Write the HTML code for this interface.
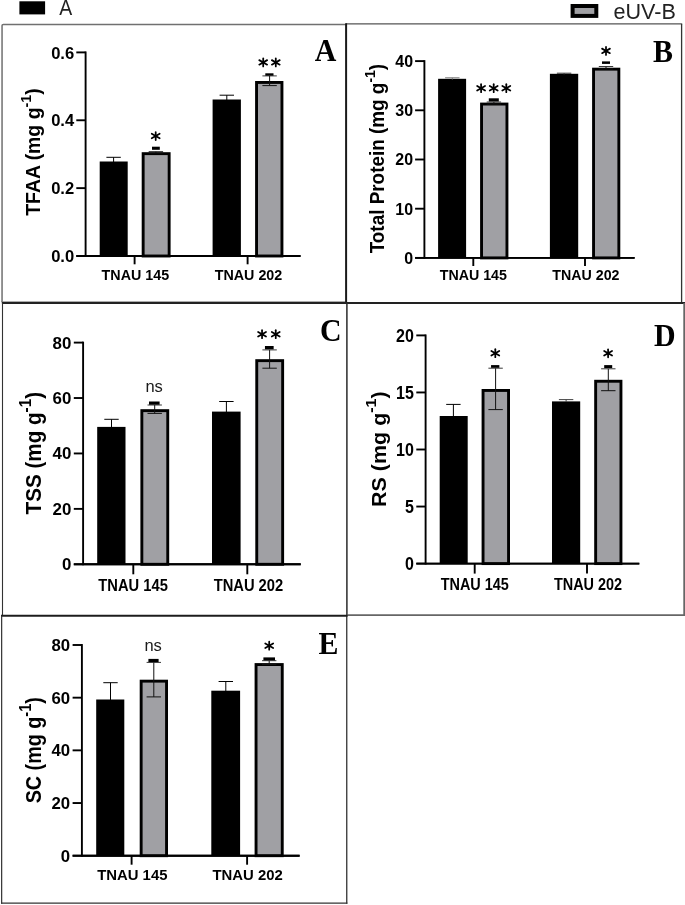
<!DOCTYPE html>
<html><head><meta charset="utf-8"><title>Figure</title>
<style>html,body{margin:0;padding:0;background:#fff;}body{width:685px;height:905px;overflow:hidden;font-family:"Liberation Sans",sans-serif;}svg{display:block;will-change:transform;filter:blur(0.4px);}.s{font-family:"Liberation Sans",sans-serif;}.r{font-family:"Liberation Serif",serif;}</style>
</head><body>
<svg width="685" height="905" viewBox="0 0 685 905">
<rect x="0" y="0" width="685" height="905" fill="#fff"/>
<path d="M2.05,302 V25.6 Q2.05,24.4 3.3,24.4 H346" fill="none" stroke="#707070" stroke-width="1.5"/>
<line x1="1.30" y1="301.90" x2="346.00" y2="301.90" stroke="#777" stroke-width="1.0" />
<line x1="346.00" y1="23.90" x2="682.20" y2="23.90" stroke="#555" stroke-width="1.4" />
<line x1="346.10" y1="23.20" x2="346.10" y2="302.70" stroke="#1a1a1a" stroke-width="2.0" />
<line x1="681.60" y1="23.90" x2="681.60" y2="302.70" stroke="#333" stroke-width="1.3" />
<line x1="1.90" y1="302.90" x2="685.00" y2="302.90" stroke="#222" stroke-width="2.0" />
<line x1="2.50" y1="302.70" x2="2.50" y2="615.70" stroke="#333" stroke-width="1.1" />
<line x1="346.90" y1="302.70" x2="346.90" y2="615.60" stroke="#2a2a2a" stroke-width="1.5" />
<line x1="346.75" y1="615.60" x2="346.75" y2="903.80" stroke="#333" stroke-width="1.3" />
<line x1="684.30" y1="303.00" x2="684.30" y2="615.90" stroke="#666" stroke-width="2.0" />
<line x1="347.00" y1="615.10" x2="685.00" y2="615.10" stroke="#666" stroke-width="1.7" />
<line x1="1.00" y1="615.70" x2="347.60" y2="615.70" stroke="#1c1c1c" stroke-width="2.1" />
<line x1="1.65" y1="615.70" x2="1.65" y2="903.80" stroke="#333" stroke-width="1.2" />
<line x1="1.05" y1="903.20" x2="347.40" y2="903.20" stroke="#333" stroke-width="1.3" />
<rect x="19.40" y="1.30" width="25.70" height="13.10" fill="#000"/>
<text transform="translate(59.3,15.2) scale(0.9,1)" class="s" font-size="21.6" fill="#222">A</text>
<rect x="572.60" y="6.00" width="23.70" height="9.90" fill="#a0a0a4" stroke="#000" stroke-width="4.0"/>
<text x="613.50" y="18.60" class="s" font-size="22" font-weight="normal" text-anchor="start" fill="#222" textLength="62.30" lengthAdjust="spacingAndGlyphs" >eUV-B</text>
<line x1="85.60" y1="51.45" x2="85.60" y2="256.95" stroke="#000" stroke-width="1.9" />
<line x1="76.30" y1="256.00" x2="300.50" y2="256.00" stroke="#000" stroke-width="1.9" />
<line x1="76.30" y1="52.40" x2="85.60" y2="52.40" stroke="#000" stroke-width="1.9" />
<text transform="translate(74.20,58.59) scale(0.96,1)" class="s" font-size="17.3" font-weight="bold" text-anchor="end">0.6</text>
<line x1="76.30" y1="120.27" x2="85.60" y2="120.27" stroke="#000" stroke-width="1.9" />
<text transform="translate(74.20,126.46) scale(0.96,1)" class="s" font-size="17.3" font-weight="bold" text-anchor="end">0.4</text>
<line x1="76.30" y1="188.13" x2="85.60" y2="188.13" stroke="#000" stroke-width="1.9" />
<text transform="translate(74.20,194.33) scale(0.96,1)" class="s" font-size="17.3" font-weight="bold" text-anchor="end">0.2</text>
<line x1="76.30" y1="256.00" x2="85.60" y2="256.00" stroke="#000" stroke-width="1.9" />
<text transform="translate(74.20,262.19) scale(0.96,1)" class="s" font-size="17.3" font-weight="bold" text-anchor="end">0.0</text>
<line x1="134.60" y1="256.00" x2="134.60" y2="264.30" stroke="#000" stroke-width="1.9" />
<text x="135.40" y="279.70" class="s" font-size="14.8" font-weight="bold" text-anchor="middle" fill="#000" textLength="67.60" lengthAdjust="spacingAndGlyphs" >TNAU 145</text>
<line x1="247.60" y1="256.00" x2="247.60" y2="264.30" stroke="#000" stroke-width="1.9" />
<text x="248.50" y="279.70" class="s" font-size="14.8" font-weight="bold" text-anchor="middle" fill="#000" textLength="67.60" lengthAdjust="spacingAndGlyphs" >TNAU 202</text>
<rect x="99.70" y="161.50" width="28.00" height="94.50" fill="#000"/>
<rect x="143.15" y="153.65" width="26.00" height="102.35" fill="#a0a0a4" stroke="#000" stroke-width="2.9"/>
<rect x="212.60" y="99.50" width="28.30" height="156.50" fill="#000"/>
<rect x="256.55" y="82.45" width="25.40" height="173.55" fill="#a0a0a4" stroke="#000" stroke-width="2.9"/>
<line x1="85.60" y1="256.00" x2="300.50" y2="256.00" stroke="#000" stroke-width="1.9" />
<line x1="113.60" y1="157.30" x2="113.60" y2="162.00" stroke="#000" stroke-width="1.0" />
<line x1="106.40" y1="157.30" x2="120.80" y2="157.30" stroke="#000" stroke-width="1.0" />
<line x1="155.90" y1="151.60" x2="155.90" y2="153.00" stroke="#111" stroke-width="1.0" />
<line x1="148.70" y1="151.60" x2="163.10" y2="151.60" stroke="#222" stroke-width="0.9" />
<line x1="148.70" y1="153.00" x2="163.10" y2="153.00" stroke="#111" stroke-width="1.0" />
<rect x="152.00" y="146.70" width="7.80" height="3.10" fill="#000"/>
<line x1="226.80" y1="95.20" x2="226.80" y2="100.00" stroke="#000" stroke-width="1.0" />
<line x1="219.60" y1="95.20" x2="234.00" y2="95.20" stroke="#000" stroke-width="1.0" />
<line x1="269.60" y1="75.90" x2="269.60" y2="85.60" stroke="#111" stroke-width="1.0" />
<line x1="262.40" y1="75.90" x2="276.80" y2="75.90" stroke="#222" stroke-width="0.9" />
<line x1="262.40" y1="85.60" x2="276.80" y2="85.60" stroke="#111" stroke-width="1.0" />
<rect x="265.30" y="73.30" width="8.20" height="2.40" fill="#000"/>
<line x1="155.70" y1="132.00" x2="155.70" y2="140.00" stroke="#000" stroke-width="1.75" stroke-linecap="round"/>
<line x1="151.75" y1="133.72" x2="159.65" y2="138.28" stroke="#000" stroke-width="1.75" stroke-linecap="round"/>
<line x1="159.65" y1="133.72" x2="151.75" y2="138.28" stroke="#000" stroke-width="1.75" stroke-linecap="round"/>
<circle cx="155.70" cy="136.00" r="1.5" fill="#000"/>
<line x1="263.20" y1="58.40" x2="263.20" y2="66.40" stroke="#000" stroke-width="1.75" stroke-linecap="round"/>
<line x1="259.25" y1="60.12" x2="267.15" y2="64.68" stroke="#000" stroke-width="1.75" stroke-linecap="round"/>
<line x1="267.15" y1="60.12" x2="259.25" y2="64.68" stroke="#000" stroke-width="1.75" stroke-linecap="round"/>
<circle cx="263.20" cy="62.40" r="1.5" fill="#000"/>
<line x1="275.80" y1="58.40" x2="275.80" y2="66.40" stroke="#000" stroke-width="1.75" stroke-linecap="round"/>
<line x1="271.85" y1="60.12" x2="279.75" y2="64.68" stroke="#000" stroke-width="1.75" stroke-linecap="round"/>
<line x1="279.75" y1="60.12" x2="271.85" y2="64.68" stroke="#000" stroke-width="1.75" stroke-linecap="round"/>
<circle cx="275.80" cy="62.40" r="1.5" fill="#000"/>
<text transform="translate(40.20,152.00) rotate(-90)" class="s" font-size="19.9" font-weight="bold" text-anchor="middle" textLength="127.50" lengthAdjust="spacingAndGlyphs">TFAA (mg g<tspan font-size="14.73" dy="-9.15">-1</tspan><tspan dy="9.15">)</tspan></text>
<text transform="translate(314.70,61.30) scale(0.95,1)" class="r" font-size="31.5" font-weight="bold">A</text>
<line x1="424.40" y1="60.15" x2="424.40" y2="258.85" stroke="#000" stroke-width="1.9" />
<line x1="415.10" y1="257.90" x2="634.60" y2="257.90" stroke="#000" stroke-width="1.9" />
<line x1="415.10" y1="61.10" x2="424.40" y2="61.10" stroke="#000" stroke-width="1.9" />
<text transform="translate(413.10,66.94) scale(0.98,1)" class="s" font-size="16.3" font-weight="bold" text-anchor="end">40</text>
<line x1="415.10" y1="110.30" x2="424.40" y2="110.30" stroke="#000" stroke-width="1.9" />
<text transform="translate(413.10,116.14) scale(0.98,1)" class="s" font-size="16.3" font-weight="bold" text-anchor="end">30</text>
<line x1="415.10" y1="159.50" x2="424.40" y2="159.50" stroke="#000" stroke-width="1.9" />
<text transform="translate(413.10,165.34) scale(0.98,1)" class="s" font-size="16.3" font-weight="bold" text-anchor="end">20</text>
<line x1="415.10" y1="208.70" x2="424.40" y2="208.70" stroke="#000" stroke-width="1.9" />
<text transform="translate(413.10,214.54) scale(0.98,1)" class="s" font-size="16.3" font-weight="bold" text-anchor="end">10</text>
<line x1="415.10" y1="257.90" x2="424.40" y2="257.90" stroke="#000" stroke-width="1.9" />
<text transform="translate(413.10,263.74) scale(0.98,1)" class="s" font-size="16.3" font-weight="bold" text-anchor="end">0</text>
<line x1="473.30" y1="257.90" x2="473.30" y2="266.00" stroke="#000" stroke-width="1.9" />
<text x="473.30" y="280.00" class="s" font-size="13.8" font-weight="bold" text-anchor="middle" fill="#000" textLength="67.20" lengthAdjust="spacingAndGlyphs" >TNAU 145</text>
<line x1="585.00" y1="257.90" x2="585.00" y2="266.00" stroke="#000" stroke-width="1.9" />
<text x="585.90" y="280.00" class="s" font-size="13.8" font-weight="bold" text-anchor="middle" fill="#000" textLength="67.20" lengthAdjust="spacingAndGlyphs" >TNAU 202</text>
<rect x="438.10" y="78.80" width="28.00" height="179.10" fill="#000"/>
<rect x="481.55" y="104.05" width="25.40" height="153.85" fill="#a0a0a4" stroke="#000" stroke-width="2.9"/>
<rect x="549.90" y="73.80" width="28.30" height="184.10" fill="#000"/>
<rect x="593.55" y="69.15" width="25.30" height="188.75" fill="#a0a0a4" stroke="#000" stroke-width="2.9"/>
<line x1="424.40" y1="257.90" x2="634.60" y2="257.90" stroke="#000" stroke-width="1.9" />
<line x1="452.30" y1="77.80" x2="452.30" y2="79.50" stroke="#777" stroke-width="1.0" />
<line x1="445.10" y1="77.80" x2="459.50" y2="77.80" stroke="#777" stroke-width="1.0" />
<line x1="493.90" y1="102.00" x2="493.90" y2="104.00" stroke="#111" stroke-width="1.0" />
<line x1="486.70" y1="102.00" x2="501.10" y2="102.00" stroke="#222" stroke-width="0.9" />
<line x1="486.70" y1="104.00" x2="501.10" y2="104.00" stroke="#111" stroke-width="1.0" />
<rect x="488.80" y="98.30" width="10.00" height="3.20" fill="#000"/>
<line x1="564.10" y1="73.20" x2="564.10" y2="74.50" stroke="#333" stroke-width="1.0" />
<line x1="556.90" y1="73.20" x2="571.30" y2="73.20" stroke="#333" stroke-width="1.0" />
<line x1="606.00" y1="66.50" x2="606.00" y2="69.00" stroke="#111" stroke-width="1.0" />
<line x1="598.80" y1="66.50" x2="613.20" y2="66.50" stroke="#222" stroke-width="0.9" />
<line x1="598.80" y1="69.00" x2="613.20" y2="69.00" stroke="#111" stroke-width="1.0" />
<rect x="602.00" y="61.40" width="8.00" height="2.50" fill="#000"/>
<line x1="481.10" y1="84.20" x2="481.10" y2="92.20" stroke="#000" stroke-width="1.75" stroke-linecap="round"/>
<line x1="477.15" y1="85.92" x2="485.05" y2="90.48" stroke="#000" stroke-width="1.75" stroke-linecap="round"/>
<line x1="485.05" y1="85.92" x2="477.15" y2="90.48" stroke="#000" stroke-width="1.75" stroke-linecap="round"/>
<circle cx="481.10" cy="88.20" r="1.5" fill="#000"/>
<line x1="493.70" y1="84.20" x2="493.70" y2="92.20" stroke="#000" stroke-width="1.75" stroke-linecap="round"/>
<line x1="489.75" y1="85.92" x2="497.65" y2="90.48" stroke="#000" stroke-width="1.75" stroke-linecap="round"/>
<line x1="497.65" y1="85.92" x2="489.75" y2="90.48" stroke="#000" stroke-width="1.75" stroke-linecap="round"/>
<circle cx="493.70" cy="88.20" r="1.5" fill="#000"/>
<line x1="506.30" y1="84.20" x2="506.30" y2="92.20" stroke="#000" stroke-width="1.75" stroke-linecap="round"/>
<line x1="502.35" y1="85.92" x2="510.25" y2="90.48" stroke="#000" stroke-width="1.75" stroke-linecap="round"/>
<line x1="510.25" y1="85.92" x2="502.35" y2="90.48" stroke="#000" stroke-width="1.75" stroke-linecap="round"/>
<circle cx="506.30" cy="88.20" r="1.5" fill="#000"/>
<line x1="606.00" y1="46.90" x2="606.00" y2="54.90" stroke="#000" stroke-width="1.75" stroke-linecap="round"/>
<line x1="602.05" y1="48.62" x2="609.95" y2="53.18" stroke="#000" stroke-width="1.75" stroke-linecap="round"/>
<line x1="609.95" y1="48.62" x2="602.05" y2="53.18" stroke="#000" stroke-width="1.75" stroke-linecap="round"/>
<circle cx="606.00" cy="50.90" r="1.5" fill="#000"/>
<text transform="translate(384.20,158.60) rotate(-90)" class="s" font-size="20.6" font-weight="bold" text-anchor="middle" textLength="189.50" lengthAdjust="spacingAndGlyphs">Total Protein (mg g<tspan font-size="15.24" dy="-9.48">-1</tspan><tspan dy="9.48">)</tspan></text>
<text transform="translate(653.00,61.70) scale(0.95,1)" class="r" font-size="31.5" font-weight="bold">B</text>
<line x1="83.10" y1="341.65" x2="83.10" y2="565.25" stroke="#000" stroke-width="1.9" />
<line x1="73.80" y1="564.30" x2="300.70" y2="564.30" stroke="#000" stroke-width="1.9" />
<line x1="73.80" y1="342.60" x2="83.10" y2="342.60" stroke="#000" stroke-width="1.9" />
<text transform="translate(71.40,348.51) scale(1.025,1)" class="s" font-size="16.5" font-weight="bold" text-anchor="end">80</text>
<line x1="73.80" y1="398.02" x2="83.10" y2="398.02" stroke="#000" stroke-width="1.9" />
<text transform="translate(71.40,403.93) scale(1.025,1)" class="s" font-size="16.5" font-weight="bold" text-anchor="end">60</text>
<line x1="73.80" y1="453.45" x2="83.10" y2="453.45" stroke="#000" stroke-width="1.9" />
<text transform="translate(71.40,459.36) scale(1.025,1)" class="s" font-size="16.5" font-weight="bold" text-anchor="end">40</text>
<line x1="73.80" y1="508.88" x2="83.10" y2="508.88" stroke="#000" stroke-width="1.9" />
<text transform="translate(71.40,514.78) scale(1.025,1)" class="s" font-size="16.5" font-weight="bold" text-anchor="end">20</text>
<line x1="73.80" y1="564.30" x2="83.10" y2="564.30" stroke="#000" stroke-width="1.9" />
<text transform="translate(71.40,570.21) scale(1.025,1)" class="s" font-size="16.5" font-weight="bold" text-anchor="end">0</text>
<line x1="133.30" y1="564.30" x2="133.30" y2="574.30" stroke="#000" stroke-width="1.9" />
<text x="133.10" y="590.60" class="s" font-size="16.2" font-weight="bold" text-anchor="middle" fill="#000" textLength="69.50" lengthAdjust="spacingAndGlyphs" >TNAU 145</text>
<line x1="247.30" y1="564.30" x2="247.30" y2="574.30" stroke="#000" stroke-width="1.9" />
<text x="248.40" y="590.60" class="s" font-size="16.2" font-weight="bold" text-anchor="middle" fill="#000" textLength="69.50" lengthAdjust="spacingAndGlyphs" >TNAU 202</text>
<rect x="97.20" y="426.90" width="28.30" height="137.40" fill="#000"/>
<rect x="141.85" y="410.65" width="25.90" height="153.65" fill="#a0a0a4" stroke="#000" stroke-width="2.9"/>
<rect x="212.00" y="411.60" width="28.60" height="152.70" fill="#000"/>
<rect x="256.75" y="360.65" width="25.90" height="203.65" fill="#a0a0a4" stroke="#000" stroke-width="2.9"/>
<line x1="83.10" y1="564.30" x2="300.70" y2="564.30" stroke="#000" stroke-width="1.9" />
<line x1="111.50" y1="419.30" x2="111.50" y2="427.50" stroke="#000" stroke-width="1.0" />
<line x1="104.30" y1="419.30" x2="118.70" y2="419.30" stroke="#000" stroke-width="1.0" />
<line x1="154.70" y1="405.00" x2="154.70" y2="413.40" stroke="#111" stroke-width="1.0" />
<line x1="147.50" y1="405.00" x2="161.90" y2="405.00" stroke="#222" stroke-width="0.9" />
<line x1="147.50" y1="413.40" x2="161.90" y2="413.40" stroke="#111" stroke-width="1.0" />
<rect x="149.00" y="401.50" width="10.60" height="3.20" fill="#000"/>
<line x1="226.40" y1="401.50" x2="226.40" y2="412.00" stroke="#000" stroke-width="1.0" />
<line x1="219.20" y1="401.50" x2="233.60" y2="401.50" stroke="#000" stroke-width="1.0" />
<line x1="269.60" y1="349.90" x2="269.60" y2="368.20" stroke="#111" stroke-width="1.0" />
<line x1="262.40" y1="349.90" x2="276.80" y2="349.90" stroke="#222" stroke-width="0.9" />
<line x1="262.40" y1="368.20" x2="276.80" y2="368.20" stroke="#111" stroke-width="1.0" />
<rect x="264.95" y="346.00" width="8.70" height="3.30" fill="#000"/>
<text x="154.10" y="392.40" class="s" font-size="16.5" font-weight="normal" text-anchor="middle" fill="#1a1a1a" >ns</text>
<line x1="262.05" y1="330.20" x2="262.05" y2="338.20" stroke="#000" stroke-width="1.75" stroke-linecap="round"/>
<line x1="258.10" y1="331.92" x2="266.00" y2="336.48" stroke="#000" stroke-width="1.75" stroke-linecap="round"/>
<line x1="266.00" y1="331.92" x2="258.10" y2="336.48" stroke="#000" stroke-width="1.75" stroke-linecap="round"/>
<circle cx="262.05" cy="334.20" r="1.5" fill="#000"/>
<line x1="275.75" y1="330.20" x2="275.75" y2="338.20" stroke="#000" stroke-width="1.75" stroke-linecap="round"/>
<line x1="271.80" y1="331.92" x2="279.70" y2="336.48" stroke="#000" stroke-width="1.75" stroke-linecap="round"/>
<line x1="279.70" y1="331.92" x2="271.80" y2="336.48" stroke="#000" stroke-width="1.75" stroke-linecap="round"/>
<circle cx="275.75" cy="334.20" r="1.5" fill="#000"/>
<text transform="translate(40.80,453.20) rotate(-90)" class="s" font-size="22.0" font-weight="bold" text-anchor="middle" textLength="122.50" lengthAdjust="spacingAndGlyphs">TSS (mg g<tspan font-size="16.28" dy="-10.12">-1</tspan><tspan dy="10.12">)</tspan></text>
<text transform="translate(320.00,340.70) scale(0.95,1)" class="r" font-size="31.5" font-weight="bold">C</text>
<line x1="425.60" y1="334.45" x2="425.60" y2="564.55" stroke="#000" stroke-width="1.9" />
<line x1="416.30" y1="563.60" x2="639.30" y2="563.60" stroke="#000" stroke-width="1.9" />
<line x1="416.30" y1="335.40" x2="425.60" y2="335.40" stroke="#000" stroke-width="1.9" />
<text transform="translate(413.90,342.17) scale(0.85,1)" class="s" font-size="18.9" font-weight="bold" text-anchor="end">20</text>
<line x1="416.30" y1="392.45" x2="425.60" y2="392.45" stroke="#000" stroke-width="1.9" />
<text transform="translate(413.90,399.22) scale(0.85,1)" class="s" font-size="18.9" font-weight="bold" text-anchor="end">15</text>
<line x1="416.30" y1="449.50" x2="425.60" y2="449.50" stroke="#000" stroke-width="1.9" />
<text transform="translate(413.90,456.27) scale(0.85,1)" class="s" font-size="18.9" font-weight="bold" text-anchor="end">10</text>
<line x1="416.30" y1="506.55" x2="425.60" y2="506.55" stroke="#000" stroke-width="1.9" />
<text transform="translate(413.90,513.32) scale(0.85,1)" class="s" font-size="18.9" font-weight="bold" text-anchor="end">5</text>
<line x1="416.30" y1="563.60" x2="425.60" y2="563.60" stroke="#000" stroke-width="1.9" />
<text transform="translate(413.90,570.37) scale(0.85,1)" class="s" font-size="18.9" font-weight="bold" text-anchor="end">0</text>
<line x1="474.70" y1="563.60" x2="474.70" y2="573.60" stroke="#000" stroke-width="1.9" />
<text x="474.80" y="590.10" class="s" font-size="16.0" font-weight="bold" text-anchor="middle" fill="#000" textLength="68.20" lengthAdjust="spacingAndGlyphs" >TNAU 145</text>
<line x1="587.00" y1="563.60" x2="587.00" y2="573.60" stroke="#000" stroke-width="1.9" />
<text x="588.00" y="590.10" class="s" font-size="16.0" font-weight="bold" text-anchor="middle" fill="#000" textLength="68.20" lengthAdjust="spacingAndGlyphs" >TNAU 202</text>
<rect x="439.70" y="416.00" width="28.00" height="147.60" fill="#000"/>
<rect x="483.05" y="390.45" width="25.50" height="173.15" fill="#a0a0a4" stroke="#000" stroke-width="2.9"/>
<rect x="552.00" y="401.40" width="28.20" height="162.20" fill="#000"/>
<rect x="595.65" y="381.25" width="25.30" height="182.35" fill="#a0a0a4" stroke="#000" stroke-width="2.9"/>
<line x1="425.60" y1="563.60" x2="639.30" y2="563.60" stroke="#000" stroke-width="1.9" />
<line x1="453.40" y1="404.40" x2="453.40" y2="417.00" stroke="#000" stroke-width="1.0" />
<line x1="446.20" y1="404.40" x2="460.60" y2="404.40" stroke="#000" stroke-width="1.0" />
<line x1="495.60" y1="368.20" x2="495.60" y2="409.60" stroke="#111" stroke-width="1.0" />
<line x1="488.40" y1="368.20" x2="502.80" y2="368.20" stroke="#222" stroke-width="0.9" />
<line x1="488.40" y1="409.60" x2="502.80" y2="409.60" stroke="#111" stroke-width="1.0" />
<rect x="491.05" y="365.10" width="8.30" height="2.70" fill="#000"/>
<line x1="566.10" y1="399.60" x2="566.10" y2="402.00" stroke="#444" stroke-width="1.0" />
<line x1="558.90" y1="399.60" x2="573.30" y2="399.60" stroke="#444" stroke-width="1.0" />
<line x1="608.30" y1="368.80" x2="608.30" y2="390.70" stroke="#111" stroke-width="1.0" />
<line x1="601.10" y1="368.80" x2="615.50" y2="368.80" stroke="#222" stroke-width="0.9" />
<line x1="601.10" y1="390.70" x2="615.50" y2="390.70" stroke="#111" stroke-width="1.0" />
<rect x="604.20" y="365.10" width="8.00" height="3.00" fill="#000"/>
<line x1="495.30" y1="349.20" x2="495.30" y2="357.20" stroke="#000" stroke-width="1.75" stroke-linecap="round"/>
<line x1="491.35" y1="350.92" x2="499.25" y2="355.48" stroke="#000" stroke-width="1.75" stroke-linecap="round"/>
<line x1="499.25" y1="350.92" x2="491.35" y2="355.48" stroke="#000" stroke-width="1.75" stroke-linecap="round"/>
<circle cx="495.30" cy="353.20" r="1.5" fill="#000"/>
<line x1="608.10" y1="349.30" x2="608.10" y2="357.30" stroke="#000" stroke-width="1.75" stroke-linecap="round"/>
<line x1="604.15" y1="351.02" x2="612.05" y2="355.58" stroke="#000" stroke-width="1.75" stroke-linecap="round"/>
<line x1="612.05" y1="351.02" x2="604.15" y2="355.58" stroke="#000" stroke-width="1.75" stroke-linecap="round"/>
<circle cx="608.10" cy="353.30" r="1.5" fill="#000"/>
<text transform="translate(385.50,449.20) rotate(-90)" class="s" font-size="19.6" font-weight="bold" text-anchor="middle" textLength="115.50" lengthAdjust="spacingAndGlyphs">RS (mg g<tspan font-size="14.50" dy="-9.02">-1</tspan><tspan dy="9.02">)</tspan></text>
<text transform="translate(654.00,345.70) scale(0.95,1)" class="r" font-size="31.5" font-weight="bold">D</text>
<line x1="81.90" y1="644.05" x2="81.90" y2="856.65" stroke="#000" stroke-width="1.9" />
<line x1="72.60" y1="855.70" x2="299.60" y2="855.70" stroke="#000" stroke-width="1.9" />
<line x1="72.60" y1="645.00" x2="81.90" y2="645.00" stroke="#000" stroke-width="1.9" />
<text transform="translate(70.20,651.01) scale(1.0,1)" class="s" font-size="16.8" font-weight="bold" text-anchor="end">80</text>
<line x1="72.60" y1="697.67" x2="81.90" y2="697.67" stroke="#000" stroke-width="1.9" />
<text transform="translate(70.20,703.69) scale(1.0,1)" class="s" font-size="16.8" font-weight="bold" text-anchor="end">60</text>
<line x1="72.60" y1="750.35" x2="81.90" y2="750.35" stroke="#000" stroke-width="1.9" />
<text transform="translate(70.20,756.36) scale(1.0,1)" class="s" font-size="16.8" font-weight="bold" text-anchor="end">40</text>
<line x1="72.60" y1="803.03" x2="81.90" y2="803.03" stroke="#000" stroke-width="1.9" />
<text transform="translate(70.20,809.04) scale(1.0,1)" class="s" font-size="16.8" font-weight="bold" text-anchor="end">20</text>
<line x1="72.60" y1="855.70" x2="81.90" y2="855.70" stroke="#000" stroke-width="1.9" />
<text transform="translate(70.20,861.71) scale(1.0,1)" class="s" font-size="16.8" font-weight="bold" text-anchor="end">0</text>
<line x1="131.60" y1="855.70" x2="131.60" y2="864.70" stroke="#000" stroke-width="1.9" />
<text x="132.30" y="880.00" class="s" font-size="14.6" font-weight="bold" text-anchor="middle" fill="#000" textLength="70.30" lengthAdjust="spacingAndGlyphs" >TNAU 145</text>
<line x1="247.10" y1="855.70" x2="247.10" y2="864.70" stroke="#000" stroke-width="1.9" />
<text x="247.60" y="880.00" class="s" font-size="14.6" font-weight="bold" text-anchor="middle" fill="#000" textLength="70.30" lengthAdjust="spacingAndGlyphs" >TNAU 202</text>
<rect x="96.20" y="699.50" width="28.10" height="156.20" fill="#000"/>
<rect x="141.15" y="681.15" width="25.40" height="174.55" fill="#a0a0a4" stroke="#000" stroke-width="2.9"/>
<rect x="211.30" y="690.70" width="28.80" height="165.00" fill="#000"/>
<rect x="256.05" y="664.55" width="26.20" height="191.15" fill="#a0a0a4" stroke="#000" stroke-width="2.9"/>
<line x1="81.90" y1="855.70" x2="299.60" y2="855.70" stroke="#000" stroke-width="1.9" />
<line x1="110.50" y1="682.70" x2="110.50" y2="700.00" stroke="#000" stroke-width="1.0" />
<line x1="103.30" y1="682.70" x2="117.70" y2="682.70" stroke="#000" stroke-width="1.0" />
<line x1="153.80" y1="662.40" x2="153.80" y2="696.90" stroke="#111" stroke-width="1.0" />
<line x1="146.60" y1="662.40" x2="161.00" y2="662.40" stroke="#222" stroke-width="0.9" />
<line x1="146.60" y1="696.90" x2="161.00" y2="696.90" stroke="#111" stroke-width="1.0" />
<rect x="148.40" y="658.90" width="10.20" height="3.20" fill="#000"/>
<line x1="225.80" y1="681.50" x2="225.80" y2="691.50" stroke="#000" stroke-width="1.0" />
<line x1="218.60" y1="681.50" x2="233.00" y2="681.50" stroke="#000" stroke-width="1.0" />
<line x1="269.20" y1="660.70" x2="269.20" y2="664.50" stroke="#111" stroke-width="1.0" />
<line x1="262.00" y1="660.70" x2="276.40" y2="660.70" stroke="#222" stroke-width="0.9" />
<line x1="262.00" y1="664.50" x2="276.40" y2="664.50" stroke="#111" stroke-width="1.0" />
<rect x="263.40" y="657.40" width="11.60" height="3.00" fill="#000"/>
<text x="153.10" y="650.60" class="s" font-size="16.5" font-weight="normal" text-anchor="middle" fill="#1a1a1a" >ns</text>
<line x1="269.20" y1="641.70" x2="269.20" y2="649.70" stroke="#000" stroke-width="1.75" stroke-linecap="round"/>
<line x1="265.25" y1="643.42" x2="273.15" y2="647.98" stroke="#000" stroke-width="1.75" stroke-linecap="round"/>
<line x1="273.15" y1="643.42" x2="265.25" y2="647.98" stroke="#000" stroke-width="1.75" stroke-linecap="round"/>
<circle cx="269.20" cy="645.70" r="1.5" fill="#000"/>
<text transform="translate(40.50,750.20) rotate(-90)" class="s" font-size="21.4" font-weight="bold" text-anchor="middle" textLength="106.20" lengthAdjust="spacingAndGlyphs">SC (mg g<tspan font-size="15.84" dy="-9.84">-1</tspan><tspan dy="9.84">)</tspan></text>
<text transform="translate(318.60,654.40) scale(0.95,1)" class="r" font-size="31.5" font-weight="bold">E</text>
</svg></body></html>
